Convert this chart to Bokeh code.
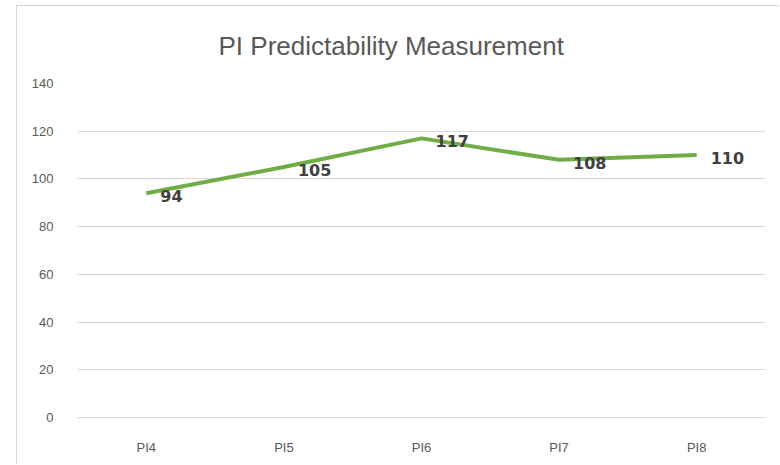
from bokeh.plotting import figure
from bokeh.models import FactorRange, Range1d, ColumnDataSource, FixedTicker
from bokeh.core.properties import value
from bokeh.embed import file_html
from bokeh.resources import INLINE

categories = ["PI4", "PI5", "PI6", "PI7", "PI8"]
values = [94, 105, 117, 108, 110]
y_ticks = [0, 20, 40, 60, 80, 100, 120, 140]
title_text = "PI Predictability Measurement"

src = ColumnDataSource(dict(x=categories, y=values, lbl=[str(v) for v in values]))

p = figure(width=763, height=459, x_range=FactorRange(*categories), y_range=Range1d(0, 140),
           output_backend="svg", toolbar_location=None,
           min_border_left=60, min_border_right=15, min_border_top=77, min_border_bottom=48)
p.styles = {"margin-left": "16px", "margin-top": "5px",
            "border-left": "1px solid #d9d9d9", "border-top": "1px solid #d9d9d9"}
p.outline_line_color = None
p.background_fill_color = "white"
p.border_fill_color = "white"

p.title.text = title_text
p.title.align = "left"
p.title.offset = 141
p.title.vertical_align = "middle"
p.title.standoff = 44
p.title.text_font = "Liberation Sans"
p.title.text_font_style = "normal"
p.title.text_font_size = "26px"
p.title.text_color = "#595959"

p.xgrid.grid_line_color = None
p.ygrid.grid_line_color = "#d9d9d9"
p.ygrid.grid_line_width = 1
p.yaxis.ticker = FixedTicker(ticks=y_ticks)

for ax in (p.xaxis, p.yaxis):
    ax.axis_line_color = None
    ax.major_tick_line_color = None
    ax.minor_tick_line_color = None
    ax.major_label_text_color = "#595959"
    ax.major_label_text_font = "Liberation Sans"
    ax.major_label_text_font_size = "13px"
p.yaxis.major_label_standoff = 18
p.xaxis.major_label_standoff = 16
p.xaxis.axis_line_color = "#d9d9d9"

p.line(x="x", y="y", source=src, line_color="#70AD47", line_width=4, line_join="round")
p.text(x="x", y="y", text="lbl", source=src, x_offset=14, y_offset=3,
       text_align="left", text_baseline="middle", text_font=value("DejaVu Sans"),
       text_font_style="bold", text_font_size="16px", text_color="#404040")

open("out.html", "w").write(file_html(p, INLINE))
